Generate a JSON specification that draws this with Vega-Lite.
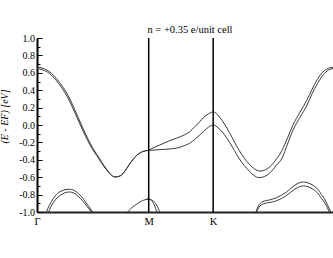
{
  "$schema": "https://vega.github.io/schema/vega-lite/v6.json",
  "width": 296,
  "height": 174,
  "autosize": {"type": "none"},
  "padding": {"left": 37, "top": 38, "right": 0, "bottom": 46},
  "title": {"text": "n = +0.35 e/unit cell", "font": "Liberation Serif", "fontSize": 10.5, "fontWeight": "normal", "color": "black", "anchor": "middle", "baseline": "alphabetic", "offset": 5, "dx": 5, "dy": 15},
  "config": {"view": {"stroke": null}},
  "datasets": {
    "bands": [
      {"s":"A","k":0,"e":0.668},{"s":"A","k":0.03,"e":0.652},{"s":"A","k":0.065,"e":0.612},{"s":"A","k":0.101,"e":0.532},{"s":"A","k":0.132,"e":0.442},{"s":"A","k":0.16,"e":0.342},{"s":"A","k":0.184,"e":0.232},{"s":"A","k":0.21,"e":0.1},{"s":"A","k":0.236,"e":-0.03},{"s":"A","k":0.261,"e":-0.15},{"s":"A","k":0.287,"e":-0.26},{"s":"A","k":0.308,"e":-0.335},{"s":"A","k":0.334,"e":-0.425},{"s":"A","k":0.36,"e":-0.51},{"s":"A","k":0.38,"e":-0.565},{"s":"A","k":0.401,"e":-0.595},{"s":"A","k":0.422,"e":-0.59},{"s":"A","k":0.443,"e":-0.56},{"s":"A","k":0.463,"e":-0.5},{"s":"A","k":0.484,"e":-0.43},{"s":"A","k":0.505,"e":-0.37},{"s":"A","k":0.525,"e":-0.33},{"s":"A","k":0.545,"e":-0.305},{"s":"A","k":0.577,"e":-0.29},
      {"s":"A","k":0.598,"e":-0.265},{"s":"A","k":0.634,"e":-0.23},{"s":"A","k":0.686,"e":-0.18},{"s":"A","k":0.722,"e":-0.15},{"s":"A","k":0.76,"e":-0.115},{"s":"A","k":0.789,"e":-0.077},{"s":"A","k":0.815,"e":-0.02},{"s":"A","k":0.841,"e":0.038},{"s":"A","k":0.86,"e":0.085},{"s":"A","k":0.877,"e":0.115},{"s":"A","k":0.895,"e":0.14},{"s":"A","k":0.91,"e":0.15},
      {"s":"A","k":0.925,"e":0.135},{"s":"A","k":0.934,"e":0.115},{"s":"A","k":0.957,"e":0.05},{"s":"A","k":0.981,"e":-0.035},{"s":"A","k":1.007,"e":-0.14},{"s":"A","k":1.033,"e":-0.25},{"s":"A","k":1.058,"e":-0.34},{"s":"A","k":1.084,"e":-0.42},{"s":"A","k":1.11,"e":-0.48},{"s":"A","k":1.136,"e":-0.52},{"s":"A","k":1.152,"e":-0.53},{"s":"A","k":1.175,"e":-0.52},{"s":"A","k":1.203,"e":-0.48},{"s":"A","k":1.234,"e":-0.4},{"s":"A","k":1.266,"e":-0.29},{"s":"A","k":1.294,"e":-0.15},{"s":"A","k":1.322,"e":0.0},{"s":"A","k":1.358,"e":0.145},{"s":"A","k":1.395,"e":0.29},{"s":"A","k":1.421,"e":0.41},{"s":"A","k":1.447,"e":0.52},{"s":"A","k":1.473,"e":0.6},{"s":"A","k":1.498,"e":0.645},{"s":"A","k":1.53,"e":0.663},{"s":"A","k":1.577,"e":0.668},
      {"s":"B","k":0,"e":0.65},{"s":"B","k":0.03,"e":0.633},{"s":"B","k":0.065,"e":0.592},{"s":"B","k":0.101,"e":0.508},{"s":"B","k":0.132,"e":0.415},{"s":"B","k":0.16,"e":0.31},{"s":"B","k":0.184,"e":0.2},{"s":"B","k":0.21,"e":0.07},{"s":"B","k":0.236,"e":-0.058},{"s":"B","k":0.261,"e":-0.175},{"s":"B","k":0.287,"e":-0.28},{"s":"B","k":0.308,"e":-0.35},{"s":"B","k":0.334,"e":-0.438},{"s":"B","k":0.36,"e":-0.52},{"s":"B","k":0.38,"e":-0.57},{"s":"B","k":0.401,"e":-0.598},{"s":"B","k":0.422,"e":-0.592},{"s":"B","k":0.443,"e":-0.562},{"s":"B","k":0.463,"e":-0.502},{"s":"B","k":0.484,"e":-0.432},{"s":"B","k":0.505,"e":-0.372},{"s":"B","k":0.525,"e":-0.332},{"s":"B","k":0.545,"e":-0.307},{"s":"B","k":0.577,"e":-0.291},
      {"s":"B","k":0.61,"e":-0.287},{"s":"B","k":0.65,"e":-0.281},{"s":"B","k":0.686,"e":-0.275},{"s":"B","k":0.722,"e":-0.265},{"s":"B","k":0.76,"e":-0.238},{"s":"B","k":0.789,"e":-0.21},{"s":"B","k":0.815,"e":-0.165},{"s":"B","k":0.841,"e":-0.115},{"s":"B","k":0.86,"e":-0.075},{"s":"B","k":0.877,"e":-0.04},{"s":"B","k":0.895,"e":-0.012},{"s":"B","k":0.91,"e":0.0},
      {"s":"B","k":0.925,"e":-0.012},{"s":"B","k":0.934,"e":-0.03},{"s":"B","k":0.957,"e":-0.08},{"s":"B","k":0.981,"e":-0.15},{"s":"B","k":1.007,"e":-0.245},{"s":"B","k":1.033,"e":-0.345},{"s":"B","k":1.058,"e":-0.43},{"s":"B","k":1.084,"e":-0.5},{"s":"B","k":1.11,"e":-0.56},{"s":"B","k":1.136,"e":-0.6},{"s":"B","k":1.141,"e":-0.605},{"s":"B","k":1.165,"e":-0.6},{"s":"B","k":1.203,"e":-0.55},{"s":"B","k":1.234,"e":-0.47},{"s":"B","k":1.266,"e":-0.38},{"s":"B","k":1.294,"e":-0.22},{"s":"B","k":1.322,"e":-0.06},{"s":"B","k":1.358,"e":0.085},{"s":"B","k":1.395,"e":0.23},{"s":"B","k":1.421,"e":0.36},{"s":"B","k":1.447,"e":0.47},{"s":"B","k":1.473,"e":0.56},{"s":"B","k":1.498,"e":0.62},{"s":"B","k":1.53,"e":0.65},{"s":"B","k":1.577,"e":0.655},
      {"s":"C1","k":0.049,"e":-1.0},{"s":"C1","k":0.062,"e":-0.93},{"s":"C1","k":0.08,"e":-0.86},{"s":"C1","k":0.1,"e":-0.8},{"s":"C1","k":0.125,"e":-0.76},{"s":"C1","k":0.15,"e":-0.742},{"s":"C1","k":0.168,"e":-0.738},{"s":"C1","k":0.19,"e":-0.75},{"s":"C1","k":0.215,"e":-0.79},{"s":"C1","k":0.24,"e":-0.85},{"s":"C1","k":0.262,"e":-0.92},{"s":"C1","k":0.287,"e":-1.0},
      {"s":"C2","k":0.06,"e":-1.0},{"s":"C2","k":0.072,"e":-0.94},{"s":"C2","k":0.088,"e":-0.88},{"s":"C2","k":0.107,"e":-0.83},{"s":"C2","k":0.13,"e":-0.795},{"s":"C2","k":0.15,"e":-0.775},{"s":"C2","k":0.168,"e":-0.77},{"s":"C2","k":0.19,"e":-0.782},{"s":"C2","k":0.213,"e":-0.82},{"s":"C2","k":0.235,"e":-0.87},{"s":"C2","k":0.258,"e":-0.935},{"s":"C2","k":0.282,"e":-1.0},
      {"s":"D1","k":0.468,"e":-1.0},{"s":"D1","k":0.49,"e":-0.95},{"s":"D1","k":0.515,"e":-0.91},{"s":"D1","k":0.54,"e":-0.875},{"s":"D1","k":0.56,"e":-0.858},{"s":"D1","k":0.577,"e":-0.852},{"s":"D1","k":0.593,"e":-0.87},{"s":"D1","k":0.606,"e":-0.92},{"s":"D1","k":0.619,"e":-1.0},
      {"s":"D2","k":0.56,"e":-0.858},{"s":"D2","k":0.577,"e":-0.852},{"s":"D2","k":0.598,"e":-0.87},{"s":"D2","k":0.618,"e":-0.92},{"s":"D2","k":0.634,"e":-1.0},
      {"s":"E1","k":1.131,"e":-1.0},{"s":"E1","k":1.141,"e":-0.94},{"s":"E1","k":1.167,"e":-0.88},{"s":"E1","k":1.203,"e":-0.86},{"s":"E1","k":1.238,"e":-0.835},{"s":"E1","k":1.289,"e":-0.77},{"s":"E1","k":1.333,"e":-0.69},{"s":"E1","k":1.355,"e":-0.665},{"s":"E1","k":1.376,"e":-0.655},{"s":"E1","k":1.4,"e":-0.665},{"s":"E1","k":1.43,"e":-0.7},{"s":"E1","k":1.447,"e":-0.73},{"s":"E1","k":1.47,"e":-0.8},{"s":"E1","k":1.488,"e":-0.86},{"s":"E1","k":1.503,"e":-0.93},{"s":"E1","k":1.518,"e":-1.0},
      {"s":"E2","k":1.134,"e":-1.0},{"s":"E2","k":1.145,"e":-0.95},{"s":"E2","k":1.17,"e":-0.905},{"s":"E2","k":1.203,"e":-0.89},{"s":"E2","k":1.238,"e":-0.87},{"s":"E2","k":1.289,"e":-0.81},{"s":"E2","k":1.333,"e":-0.735},{"s":"E2","k":1.355,"e":-0.71},{"s":"E2","k":1.376,"e":-0.7},{"s":"E2","k":1.4,"e":-0.71},{"s":"E2","k":1.43,"e":-0.745},{"s":"E2","k":1.447,"e":-0.775},{"s":"E2","k":1.47,"e":-0.845},{"s":"E2","k":1.488,"e":-0.9},{"s":"E2","k":1.5,"e":-0.95},{"s":"E2","k":1.51,"e":-1.0}
    ],
    "sym": [{"k": 0.577, "lab": "M"}, {"k": 0.91, "lab": "K"}]
  },
  "layer": [
    {
      "mark": {"type": "rule", "color": "#888888", "strokeDash": [1.5, 1.5], "strokeWidth": 1},
      "encoding": {
        "y": {"datum": 0, "type": "quantitative", "scale": {"domain": [-1, 1], "nice": false, "zero": false},
          "axis": {"orient": "left", "values": [-0.9, -0.7, -0.5, -0.3, -0.1, 0.1, 0.3, 0.5, 0.7, 0.9], "labels": false, "domain": false, "grid": false, "title": null, "tickSize": -3, "tickColor": "black", "tickWidth": 1}}
      }
    },
    {
      "data": {"name": "bands"},
      "mark": {"type": "line", "interpolate": "monotone", "color": "#3a3a3a", "strokeWidth": 1, "clip": true},
      "encoding": {
        "x": {"field": "k", "type": "quantitative", "scale": {"domain": [0, 1.529], "nice": false, "zero": false},
          "axis": {"values": [0, 0.577, 0.91], "labelExpr": "datum.value < 0.1 ? 'Γ' : (datum.value < 0.7 ? 'M' : 'K')", "labelFont": "Liberation Serif", "labelFontSize": 10.5, "labelColor": "black", "labelFlush": false, "labelOverlap": false, "labelPadding": 4, "ticks": false, "grid": false, "title": null, "domainColor": "#222222", "domainWidth": 2}},
        "y": {"field": "e", "type": "quantitative", "scale": {"domain": [-1, 1], "nice": false, "zero": false},
          "axis": {"orient": "left", "values": [-1, -0.8, -0.6, -0.4, -0.2, 0, 0.2, 0.4, 0.6, 0.8, 1], "labelExpr": "replace(format(datum.value, '.1f'), '−', '-')", "labelFont": "Liberation Serif", "labelFontSize": 10, "labelColor": "black", "labelPadding": 7.5, "tickSize": -5, "tickColor": "black", "tickWidth": 1, "grid": false, "domainColor": "black", "domainWidth": 2,
            "title": "(E - EF)  [eV]", "titleFont": "Liberation Serif", "titleFontSize": 10, "titleFontWeight": "normal", "titleFontStyle": "italic", "titleColor": "black", "titleAngle": -90, "titleAlign": "center", "titleBaseline": "alphabetic", "titleX": -29.5, "titleY": 78}},
        "detail": {"field": "s", "type": "nominal"}
      }
    },
    {
      "data": {"name": "sym"},
      "mark": {"type": "rule", "color": "black", "strokeWidth": 1.5},
      "encoding": {"x": {"field": "k", "type": "quantitative"}}
    },
    {
      "mark": {"type": "rule", "color": "black", "strokeWidth": 2},
      "encoding": {"y": {"datum": 1, "type": "quantitative", "axis": null}}
    }
  ],
  "resolve": {"axis": {"y": "independent"}}
}
